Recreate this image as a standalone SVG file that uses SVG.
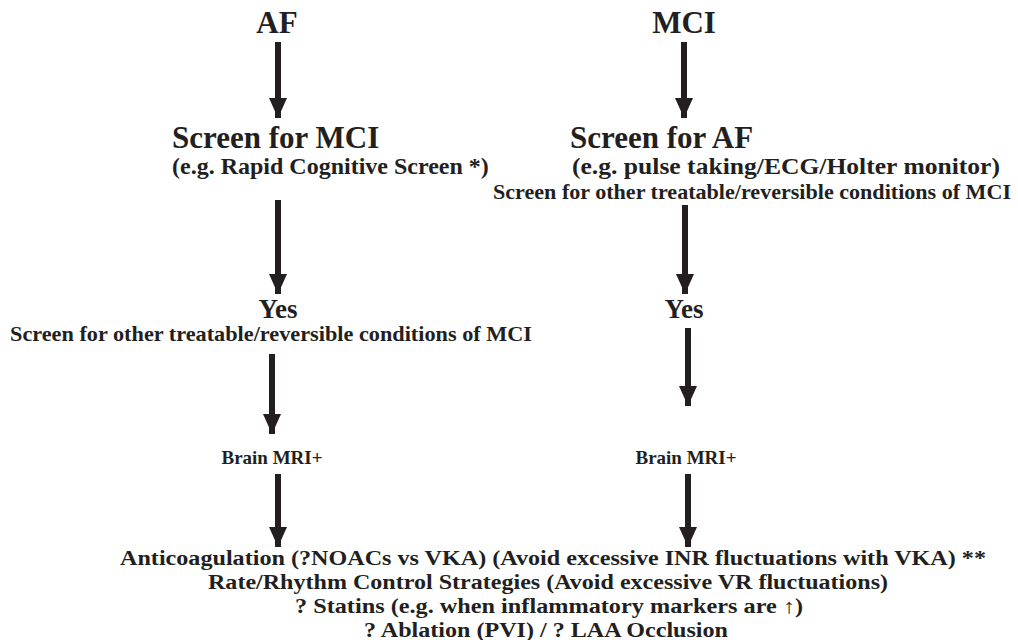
<svg xmlns="http://www.w3.org/2000/svg" width="1018" height="640" viewBox="0 0 1018 640">
<defs>
<style>
text{font-family:"Liberation Serif","Times New Roman",serif;font-weight:bold;fill:#231f20}
.h{font-size:31px}
.s{font-size:24px}
.o{font-size:21px}
.y{font-size:27px}
.b{font-size:19px}
.f{font-size:20.5px}
.c{text-anchor:middle}
.sh{stroke:#231f20;stroke-width:6;fill:none}
</style>
<marker id="ah" viewBox="0 0 20 18" refX="20" refY="9" markerWidth="20" markerHeight="18" markerUnits="userSpaceOnUse" orient="auto">
<path d="M0,0 L20,9 L0,18 Z" fill="#231f20"/>
</marker>
</defs>
<rect width="1018" height="640" fill="#ffffff"/>
<g id="n-af"><text class="h c" x="277" y="33">AF</text></g>
<g id="n-mci"><text class="h c" x="684" y="33">MCI</text></g>
<g id="n-screen-mci">
<text class="h" x="172" y="148">Screen for MCI</text>
<text class="s" x="172" y="174">(e.g. Rapid Cognitive Screen *)</text>
</g>
<g id="n-screen-af">
<text class="h" x="570" y="148">Screen for AF</text>
<text class="s" x="572" y="174" textLength="428" lengthAdjust="spacingAndGlyphs">(e.g. pulse taking/ECG/Holter monitor)</text>
<text class="o" x="493" y="199" textLength="518" lengthAdjust="spacingAndGlyphs">Screen for other treatable/reversible conditions of MCI</text>
</g>
<g id="n-yes-l">
<text class="y c" x="278" y="318">Yes</text>
<text class="o" x="10" y="341" textLength="522" lengthAdjust="spacingAndGlyphs">Screen for other treatable/reversible conditions of MCI</text>
</g>
<g id="n-yes-r"><text class="y c" x="684" y="318">Yes</text></g>
<g id="n-mri-l"><text class="b c" x="272" y="464">Brain MRI+</text></g>
<g id="n-mri-r"><text class="b c" x="686" y="464">Brain MRI+</text></g>
<g id="n-treat">
<text class="f c" x="553" y="565" textLength="866" lengthAdjust="spacingAndGlyphs">Anticoagulation (?NOACs vs VKA) (Avoid excessive INR fluctuations with VKA) **</text>
<text class="f c" x="548" y="589" textLength="680" lengthAdjust="spacingAndGlyphs">Rate/Rhythm Control Strategies (Avoid excessive VR fluctuations)</text>
<text class="f c" x="549" y="613" textLength="508" lengthAdjust="spacingAndGlyphs">? Statins (e.g. when inflammatory markers are ↑)</text>
<text class="f c" x="546" y="637" textLength="364" lengthAdjust="spacingAndGlyphs">? Ablation (PVI) / ? LAA Occlusion</text>
</g>
<g id="connectors">
<path class="sh" d="M278,42 V118" marker-end="url(#ah)"/>
<path class="sh" d="M684,42 V118" marker-end="url(#ah)"/>
<path class="sh" d="M278,200 V294" marker-end="url(#ah)"/>
<path class="sh" d="M685,205 V294" marker-end="url(#ah)"/>
<path class="sh" d="M272,354 V434" marker-end="url(#ah)"/>
<path class="sh" d="M688,328 V406" marker-end="url(#ah)"/>
<path class="sh" d="M278,474 V547" marker-end="url(#ah)"/>
<path class="sh" d="M688,474 V547" marker-end="url(#ah)"/>
</g>
</svg>
